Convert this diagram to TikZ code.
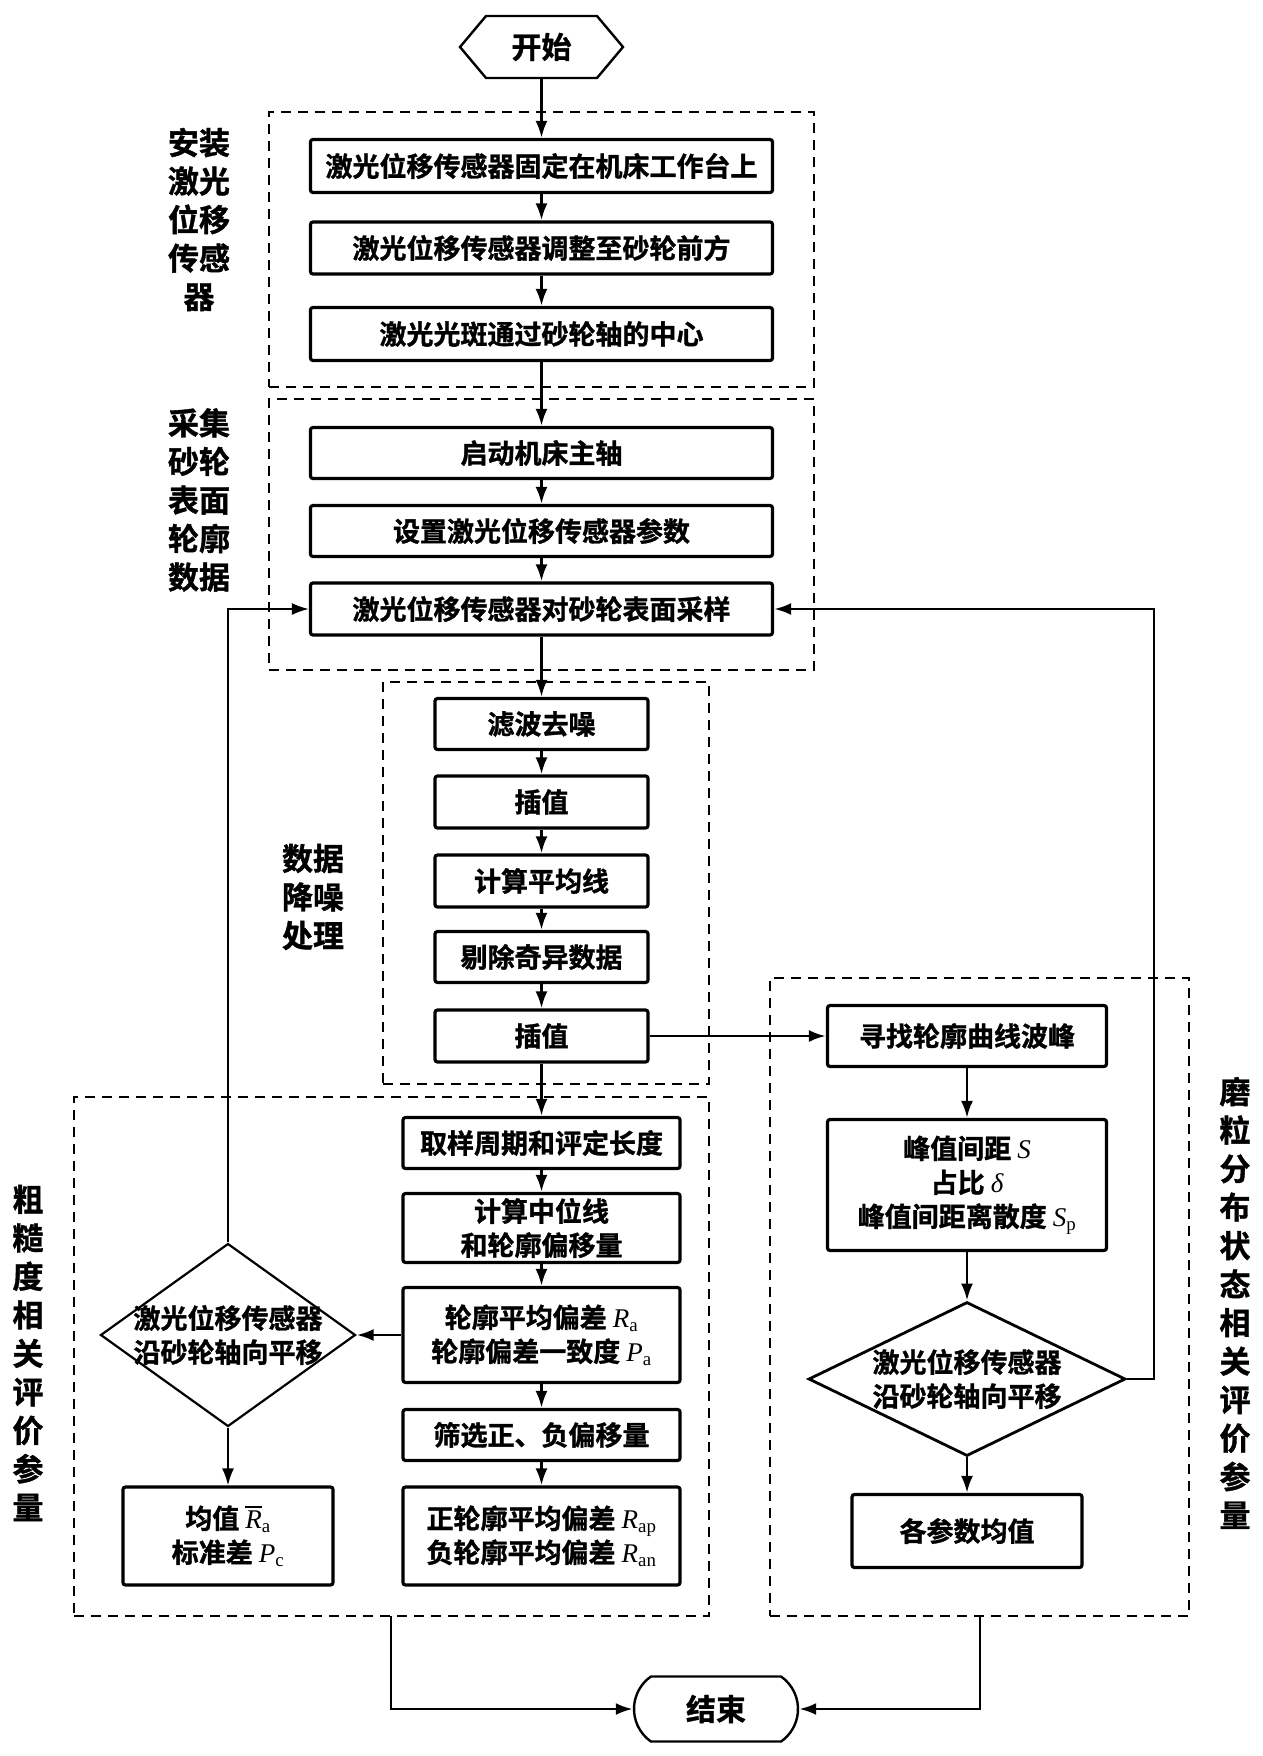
\documentclass[tikz,border=0pt]{standalone}
\usepackage{fontspec}
\usetikzlibrary{arrows.meta,shapes.geometric,shapes.symbols,shapes.misc}
\newfontfamily\cjk{Noto Sans CJK SC Bold}[FakeBold=1.2]
\newfontfamily\tms{Liberation Serif}
\newcommand{\symb}[2]{{\tms\itshape #1}\textsubscript{\tms #2}}
\newcommand{\olR}{\leavevmode\vbox{\hrule height 2.2pt\kern 2.5pt\hbox{\tms\itshape R}}}
\begin{document}
\begin{tikzpicture}[x=1pt,y=-1pt,
  every node/.style={font=\cjk\fontsize{27}{34}\selectfont, align=center, inner sep=0pt},
  box/.style={draw, line width=3.2pt, rounded corners=2.5pt},
  grp/.style={draw, line width=2.4pt, dash pattern=on 10pt off 7pt},
  lab/.style={font=\cjk\fontsize{31}{38.5}\selectfont},
  dia/.style={draw, diamond, line width=2.2pt},
  arr/.style={line width=2.8pt, -{Latex[length=17pt,width=12pt]}}
]
\useasboundingbox (0,0) rectangle (1263,1756);
% groups
\node[grp, minimum width=545pt, minimum height=275pt] (g1) at (541.5,249.5) {};
\node[grp, minimum width=545pt, minimum height=271pt] (g2) at (541.5,534.5) {};
\node[grp, minimum width=326pt, minimum height=402pt] (g3) at (546,883) {};
\node[grp, minimum width=635pt, minimum height=519pt] (g4) at (391.5,1356.5) {};
\node[grp, minimum width=419pt, minimum height=638pt] (g5) at (979.5,1297) {};
% group labels
\node[lab] (l1) at (199,219.5) {安装\\激光\\位移\\传感\\器};
\node[lab] (l2) at (199,500) {采集\\砂轮\\表面\\轮廓\\数据};
\node[lab] (l3) at (313,897) {数据\\降噪\\处理};
\node[lab] (l4) at (28,1353) {粗\\糙\\度\\相\\关\\评\\价\\参\\量};
\node[lab] (l5) at (1235,1303) {磨\\粒\\分\\布\\状\\态\\相\\关\\评\\价\\参\\量};
% start / end
\node[draw, line width=2.4pt, signal, signal to=east and west, signal pointer angle=100,
  minimum width=163pt, minimum height=62pt, font=\cjk\fontsize{30}{34}\selectfont] (start) at (541.5,47) {开始};
\node[draw, line width=2.4pt, rounded rectangle, rounded rectangle arc length=110,
  minimum width=164pt, minimum height=65pt, font=\cjk\fontsize{30}{34}\selectfont] (end) at (716,1709) {结束};
% column 1
\node[box, minimum width=462pt, minimum height=53pt] (b1) at (541.5,166) {激光位移传感器固定在机床工作台上};
\node[box, minimum width=462pt, minimum height=52pt] (b2) at (541.5,248) {激光位移传感器调整至砂轮前方};
\node[box, minimum width=462pt, minimum height=53pt] (b3) at (541.5,334) {激光光斑通过砂轮轴的中心};
\node[box, minimum width=462pt, minimum height=51pt] (b4) at (541.5,453) {启动机床主轴};
\node[box, minimum width=462pt, minimum height=51pt] (b5) at (541.5,531) {设置激光位移传感器参数};
\node[box, minimum width=462pt, minimum height=52pt] (b6) at (541.5,609) {激光位移传感器对砂轮表面采样};
\node[box, minimum width=213pt, minimum height=51pt] (c1) at (541.5,724) {滤波去噪};
\node[box, minimum width=213pt, minimum height=52pt] (c2) at (541.5,802) {插值};
\node[box, minimum width=213pt, minimum height=52pt] (c3) at (541.5,881) {计算平均线};
\node[box, minimum width=213pt, minimum height=51pt] (c4) at (541.5,957) {剔除奇异数据};
\node[box, minimum width=213pt, minimum height=52pt] (c5) at (541.5,1036) {插值};
\node[box, minimum width=277pt, minimum height=51pt] (r1) at (541.5,1143) {取样周期和评定长度};
\node[box, minimum width=277pt, minimum height=69pt] (r2) at (541.5,1228) {计算中位线\\和轮廓偏移量};
\node[box, minimum width=277pt, minimum height=95pt] (r3) at (541.5,1335) {轮廓平均偏差 \symb{R}{a}\\轮廓偏差一致度 \symb{P}{a}};
\node[box, minimum width=277pt, minimum height=51pt] (r4) at (541.5,1435) {筛选正、负偏移量};
\node[box, minimum width=277pt, minimum height=98pt] (r5) at (541.5,1536) {正轮廓平均偏差 \symb{R}{ap}\\负轮廓平均偏差 \symb{R}{an}};
% left branch
\node[dia, minimum width=255pt, minimum height=183pt,
  label={center:激光位移传感器\\沿砂轮轴向平移}] (ld) at (228,1335) {};
\node[box, minimum width=210pt, minimum height=98pt] (lb) at (228,1536) {均值 \olR\textsubscript{\tms a}\\标准差 \symb{P}{c}};
% right branch
\node[box, minimum width=279pt, minimum height=61pt] (s1) at (967,1036) {寻找轮廓曲线波峰};
\node[box, minimum width=279pt, minimum height=131pt] (s2) at (967,1185) {峰值间距 {\tms\itshape S}\\占比 {\tms\itshape δ}\\峰值间距离散度 \symb{S}{p}};
\node[dia, line width=2.8pt, minimum width=317pt, minimum height=154pt,
  label={center:激光位移传感器\\沿砂轮轴向平移}] (rd) at (967,1379) {};
\node[box, minimum width=230pt, minimum height=73pt] (s3) at (967,1531) {各参数均值};
% connectors
\draw[arr] (start) -- (b1);
\draw[arr] (b1) -- (b2);
\draw[arr] (b2) -- (b3);
\draw[arr] (b3) -- (b4);
\draw[arr] (b4) -- (b5);
\draw[arr] (b5) -- (b6);
\draw[arr] (b6) -- (c1);
\draw[arr] (c1) -- (c2);
\draw[arr] (c2) -- (c3);
\draw[arr] (c3) -- (c4);
\draw[arr] (c4) -- (c5);
\draw[arr] (c5) -- (r1);
\draw[arr] (r1) -- (r2);
\draw[arr] (r2) -- (r3);
\draw[arr] (r3) -- (r4);
\draw[arr] (r4) -- (r5);
\draw[arr] (r3.west) -- (ld.east);
\draw[arr, line width=2pt] (ld) -- (lb);
\draw[arr, line width=2pt] (ld.north) |- (b6.west);
\draw[arr] (c5) -- (s1);
\draw[arr] (s1) -- (s2);
\draw[arr] (s2) -- (rd);
\draw[arr] (rd) -- (s3);
\coordinate (rk) at (1154,1379);
\draw[arr] (rd.east) -- (rk) |- (b6.east);
\coordinate (e1) at (391,1616);
\coordinate (e2) at (980,1616);
\draw[arr] (e1) |- (end.west);
\draw[arr] (e2) |- (end.east);
\end{tikzpicture}
\end{document}
